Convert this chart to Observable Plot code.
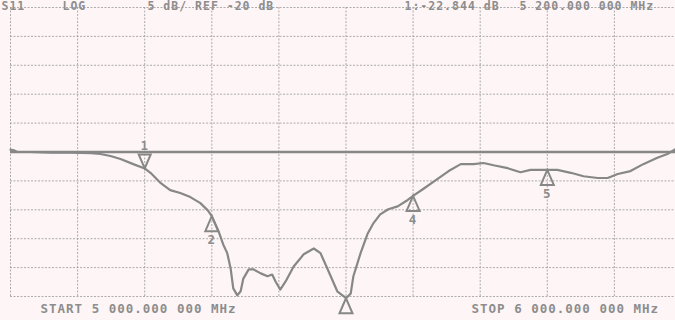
<!DOCTYPE html>
<html>
<head>
<meta charset="utf-8">
<script src="https://cdn.jsdelivr.net/npm/d3@7"></script>
<script src="https://cdn.jsdelivr.net/npm/@observablehq/plot@0.6"></script>
<style>
  html, body { margin: 0; padding: 0; background: #fdf5f6; overflow: hidden; }
  #chart { width: 675px; height: 320px; overflow: hidden; }
  #chart svg { background: #fdf5f6; font-family: "DejaVu Sans Mono", monospace; font-weight: bold; letter-spacing: 1px; }
</style>
</head>
<body>
<div id="chart"></div>
<script>
// ---- data ----
const freqMHz = [5000, 5005, 5010, 5030, 5060, 5090, 5120, 5134, 5149, 5164, 5183, 5200, 5209, 5224, 5238, 5253, 5268, 5283, 5294, 5300,
  5310, 5317, 5323, 5328, 5332, 5338, 5343, 5347, 5355, 5362, 5373, 5383, 5390, 5395, 5402, 5410, 5422, 5437, 5452, 5462,
  5472, 5487, 5500, 5507, 5511, 5522, 5532, 5541, 5551, 5563, 5577, 5592, 5600, 5615, 5636, 5653, 5671, 5690, 5705, 5720,
  5741, 5760, 5775, 5800, 5815, 5835, 5854, 5875, 5890, 5905, 5924, 5943, 5964, 5979, 5991, 6000];
const s11dB = [-19.6, -19.7, -20.0, -20.0, -20.1, -20.1, -20.2, -20.35, -20.7, -21.2, -22.1, -22.84, -23.65, -25.4, -26.6, -27.1, -27.8, -28.85, -30.1, -31.1,
  -33.7, -36.0, -37.5, -40.1, -43.6, -44.8, -44.1, -41.9, -40.3, -40.3, -41.0, -41.5, -41.2, -42.4, -43.8, -42.4, -39.8, -37.7, -36.7, -37.5,
  -40.1, -44.1, -45.3, -44.5, -41.5, -37.4, -34.2, -32.3, -30.8, -29.9, -29.4, -28.3, -27.6, -26.4, -24.7, -23.3, -22.1, -22.1, -21.9, -22.3,
  -22.8, -23.5, -23.1, -23.1, -23.1, -23.6, -24.2, -24.5, -24.5, -23.8, -23.3, -22.1, -21.0, -20.35, -19.5, -19.0];

const markerFreq = [5200, 5300, 5500, 5600, 5800];
const markerDB = [-22.844, -31.1, -45.3, -27.6, -23.1];
const markerLabels = ["1", "2", "3", "4", "5"];
const activeMarker = "1";

const freqGrid = [5000, 5100, 5200, 5300, 5400, 5500, 5600, 5700, 5800, 5900, 6000];
const dbGrid = [5, 0, -5, -10, -15, -20, -25, -30, -35, -40, -45];
const refLevel = -20;

const headerTexts = ["S11", "LOG", "5 dB/ REF -20 dB", "1:-22.844 dB", "5 200.000 000 MHz"];
const startText = "START 5 000.000 000 MHz";
const stopText = "STOP 6 000.000 000 MHz";

// ---- build tables ----
const trace = freqMHz.map((f, i) => ({f, db: s11dB[i]}));
const markers = markerFreq.map((f, i) => ({f, db: markerDB[i], label: markerLabels[i]}));
const activeM = markers.filter(d => d.label === activeMarker);
const otherM = markers.filter(d => d.label !== activeMarker);

const ink = "#878787";
const textInk = "#8d8d8d";

const upTri = {draw(ctx) { ctx.moveTo(0, 0); ctx.lineTo(-6.5, 15); ctx.lineTo(6.5, 15); ctx.closePath(); }};
const downTri = {draw(ctx) { ctx.moveTo(0, 0); ctx.lineTo(-6, -14); ctx.lineTo(6, -14); ctx.closePath(); }};

const txt = (s, dx, dy, size) => Plot.text([s], {
  text: d => d, frameAnchor: "top-left", lineAnchor: "bottom", textAnchor: "start",
  dx, dy, fill: textInk, fontSize: size, fontWeight: "bold"
});

const chart = Plot.plot({
  width: 675,
  height: 320,
  marginTop: 0, marginBottom: 0, marginLeft: 0, marginRight: 0,
  x: {domain: [5000, 6000], range: [10, 681], axis: null},
  y: {domain: [-45, 5], range: [296, 7], axis: null},
  marks: [
    Plot.ruleX(freqGrid, {y1: -45, y2: 5, stroke: "#9a9a9a", strokeWidth: 1, strokeDasharray: "2,1.5", strokeOpacity: 0.8}),
    Plot.ruleY(dbGrid, {x1: 5000, x2: 6000, stroke: "#9a9a9a", strokeWidth: 1, strokeDasharray: "2,1.5", strokeOpacity: 0.8}),
    Plot.ruleY([refLevel], {x1: 5000, x2: 6000, stroke: ink, strokeWidth: 2.6}),
    Plot.line(trace, {x: "f", y: "db", stroke: ink, strokeWidth: 2.2, strokeLinejoin: "round"}),
    Plot.dot(otherM, {x: "f", y: "db", symbol: upTri, stroke: ink, strokeWidth: 2, fill: "none"}),
    Plot.dot(activeM, {x: "f", y: "db", symbol: downTri, stroke: ink, strokeWidth: 2, fill: "none"}),
    Plot.text(otherM.filter(d => d.db >= -45), {x: "f", y: "db", text: "label", dy: 24, fill: textInk, fontSize: 12.5, fontWeight: "bold"}),
    Plot.text(activeM, {x: "f", y: "db", text: "label", dy: -22, fill: textInk, fontSize: 12.5, fontWeight: "bold"}),
    txt(headerTexts[0], 1, 9, 11.5),
    txt(headerTexts[1], 62, 9, 11.5),
    txt(headerTexts[2], 147, 9, 11.5),
    txt(headerTexts[3], 404, 9, 11.5),
    txt(headerTexts[4], 519, 9, 11.5),
    txt(startText, 40, 312, 12.5),
    txt(stopText, 471, 312, 12.5)
  ]
});
document.getElementById("chart").appendChild(chart);
</script>
</body>
</html>
